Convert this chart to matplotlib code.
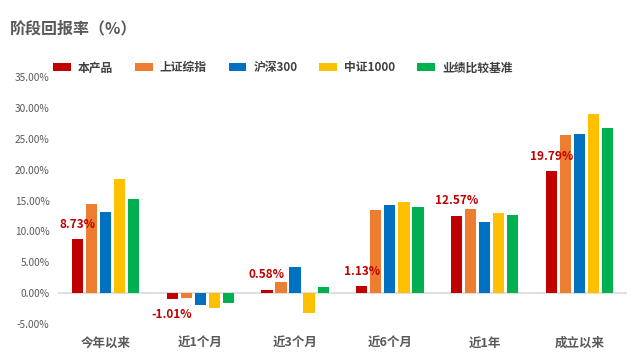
import numpy as np
import matplotlib
matplotlib.use("Agg")
import matplotlib.pyplot as plt
from matplotlib.ticker import FuncFormatter

plt.rcParams['font.family'] = ['Noto Sans CJK SC', 'DejaVu Sans']

categories = ["今年以来", "近1个月", "近3个月", "近6个月", "近1年", "成立以来"]
series_names = ["本产品", "上证综指", "沪深300", "中证1000", "业绩比较基准"]
product = [8.73, -1.01, 0.58, 1.13, 12.57, 19.79]
sse = [14.4, -0.8, 1.8, 13.4, 13.7, 25.6]
csi300 = [13.1, -1.9, 4.2, 14.2, 11.6, 25.8]
csi1000 = [18.5, -2.4, -3.2, 14.8, 12.9, 29.0]
benchmark = [15.3, -1.6, 1.0, 14.0, 12.7, 26.8]
yticks = [-5, 0, 5, 10, 15, 20, 25, 30, 35]

colors = ["#C00000", "#ED7D31", "#0070C0", "#FFC000", "#00B050"]
all_series = [product, sse, csi300, csi1000, benchmark]

fig = plt.figure(figsize=(6.4, 3.61), dpi=100)
ax = fig.add_axes([0.0906, 0.1025, 0.889, 0.684])

x = np.arange(len(categories))
step = 0.148
width = 0.118
for i, (vals, col, name) in enumerate(zip(all_series, colors, series_names)):
    ax.bar(x + (i - 2) * step, vals, width=width, color=col, label=name, zorder=2)

# data labels for the product
for xi, v in zip(x, product):
    xpos = xi - 2 * step
    if v >= 0:
        ax.annotate(f"{v:.2f}%", (xpos, v), xytext=(0, 6), textcoords="offset points",
                    ha="center", va="bottom", color="#C00000", fontsize=8.5, fontweight="bold")
    else:
        ax.annotate(f"{v:.2f}%", (xpos, v), xytext=(0, -6), textcoords="offset points",
                    ha="center", va="top", color="#C00000", fontsize=8.5, fontweight="bold")

ax.set_xlim(-0.5, len(categories) - 0.5)
ax.set_ylim(-5, 35)
ax.set_yticks(yticks)
ax.yaxis.set_major_formatter(FuncFormatter(lambda v, p: f"{v:.2f}%"))
ax.axhline(0, color="#D9D9D9", lw=1.2, zorder=1)
for s in ax.spines.values():
    s.set_visible(False)
ax.tick_params(axis="y", length=0, labelsize=7.3, labelcolor="#595959", pad=6)
ax.tick_params(axis="x", length=0, pad=9)
ax.set_xticks(x)
ax.set_xticklabels(categories, fontsize=9, fontweight="bold", color="#595959")

fig.text(0.016, 0.922, "阶段回报率（%）", fontsize=11.5, fontweight="bold", color="#595959",
         va="center", ha="left")

fig.legend(loc="center left", bbox_to_anchor=(0.083, 0.812), ncol=5, frameon=False,
           handlelength=1.5, handleheight=0.65, columnspacing=1.85, handletextpad=0.6,
           borderaxespad=0, borderpad=0,
           prop={"size": 8.5, "weight": "bold"}, labelcolor="#404040")

fig.savefig("out.png", dpi=100)
